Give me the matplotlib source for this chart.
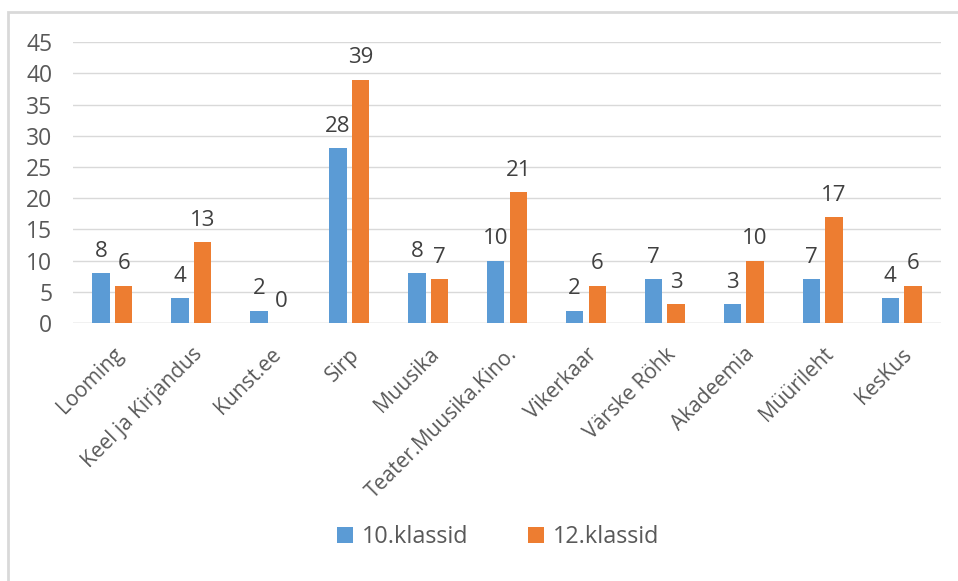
import numpy as np
import matplotlib.pyplot as plt
from matplotlib.patches import Rectangle

# -----------------------------
# Data
# -----------------------------
categories = ["Looming", "Keel ja Kirjandus", "Kunst.ee", "Sirp", "Muusika",
              "Teater.Muusika.Kino.", "Vikerkaar", "Värske Röhk", "Akadeemia",
              "Müürileht", "KesKus"]
klass10 = [8, 4, 2, 28, 8, 10, 2, 7, 3, 7, 4]
klass12 = [6, 13, 0, 39, 7, 21, 6, 3, 10, 17, 6]
series_names = ["10.klassid", "12.klassid"]

BLUE = "#5B9BD5"
ORANGE = "#ED7D31"
TEXT = "#595959"
GRID = "#D9D9D9"

plt.rcParams['font.family'] = ['Open Sans', 'DejaVu Sans']

fig = plt.figure(figsize=(9.58, 5.81), dpi=100)
ax = fig.add_axes([0.0762, 0.444, 0.9061, 0.4836])

# outer chart frame (only left and top visible in the reference)
fig.patches.append(Rectangle((8 / 958, -0.1), 1.2, 1 - 12 / 581 + 0.1,
                             transform=fig.transFigure, fill=False,
                             edgecolor=GRID, linewidth=2))

x = np.arange(len(categories))
w = 0.22
off = 0.143
b1 = ax.bar(x - off, klass10, w, color=BLUE, label=series_names[0], zorder=3)
b2 = ax.bar(x + off, klass12, w, color=ORANGE, label=series_names[1], zorder=3)

for bars, vals in ((b1, klass10), (b2, klass12)):
    for rect, v in zip(bars, vals):
        ax.annotate(str(v), (rect.get_x() + rect.get_width() / 2, v),
                    xytext=(0, 8), textcoords="offset points",
                    ha="center", va="bottom", fontsize=16, color="#404040")

ax.set_xlim(-0.5, len(categories) - 0.5)
ax.set_ylim(0, 45)
ax.set_yticks(range(0, 46, 5))
ax.yaxis.grid(True, color=GRID, linewidth=1, zorder=0)
ax.set_axisbelow(True)
for s in ax.spines.values():
    s.set_visible(False)
ax.axhline(0, color=GRID, linewidth=1, zorder=2)
ax.tick_params(axis="both", length=0, colors=TEXT)
ax.tick_params(axis="y", pad=15, labelsize=16.5)
ax.set_xticks(x)
ax.set_xticklabels(categories, rotation=45, ha="right", rotation_mode="anchor")
ax.tick_params(axis="x", pad=15, labelsize=15)

ax.legend(loc="center", bbox_to_anchor=(498 / 958, 1 - 537 / 581),
          bbox_transform=fig.transFigure, ncol=2, frameon=False,
          fontsize=16.8, handlelength=0.68, handleheight=0.68,
          handletextpad=0.38, columnspacing=2.56, labelcolor=TEXT)

fig.savefig("out.png", dpi=100)
